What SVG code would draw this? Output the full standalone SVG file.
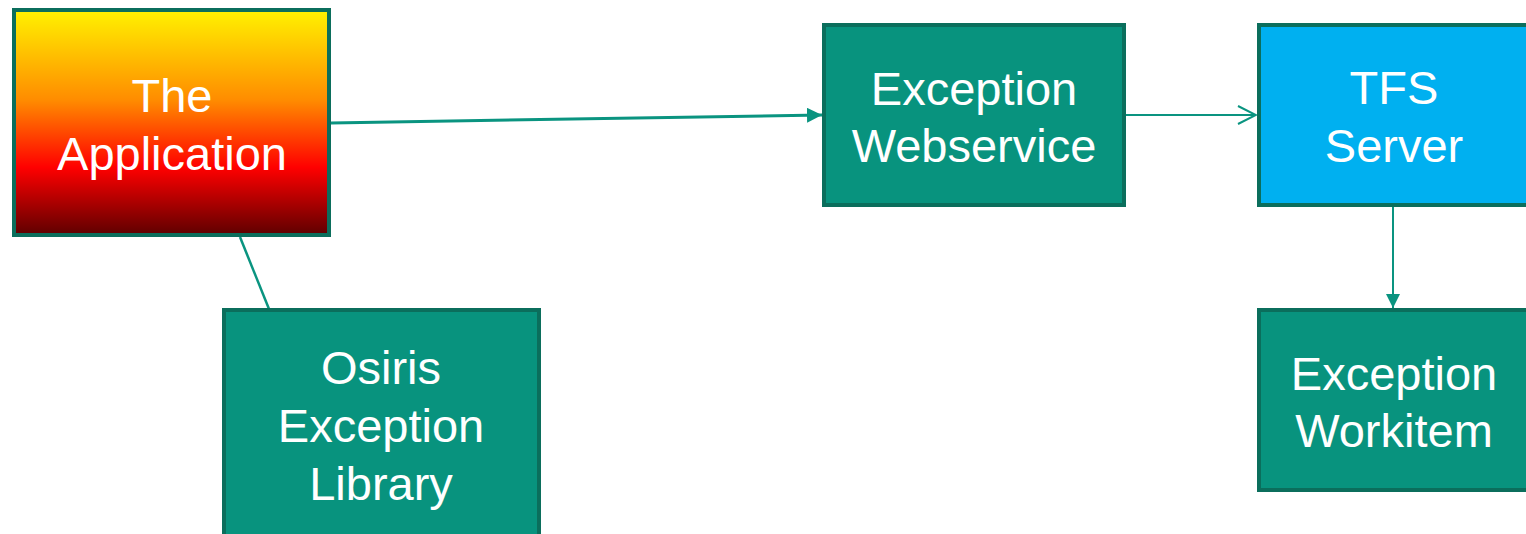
<svg xmlns="http://www.w3.org/2000/svg" width="1526" height="534" viewBox="0 0 1526 534">
<defs>
<linearGradient id="appGrad" x1="0" y1="0" x2="0" y2="1">
<stop offset="0" stop-color="#FFF200"/>
<stop offset="0.4" stop-color="#FF8C00"/>
<stop offset="0.7" stop-color="#FF0000"/>
<stop offset="1" stop-color="#5E0000"/>
</linearGradient>
<marker id="filled" viewBox="0 0 10 10" refX="10" refY="5" markerWidth="5" markerHeight="5" orient="auto" markerUnits="strokeWidth">
<path d="M0,0 L10,5 L0,10 Z" fill="#0A9480"/>
</marker>
<marker id="filledThin" viewBox="0 0 10 10" refX="10" refY="5" markerWidth="7" markerHeight="7" orient="auto" markerUnits="strokeWidth">
<path d="M0,0 L10,5 L0,10 Z" fill="#0A9480"/>
</marker>
<marker id="open" viewBox="0 0 20 20" refX="19" refY="10" markerWidth="10" markerHeight="10" orient="auto" markerUnits="strokeWidth">
<path d="M1,1 L19,10 L1,19" fill="none" stroke="#0A9480" stroke-width="2"/>
</marker>
</defs>
<style>
.box{stroke:#0B6E5C;stroke-width:4}
.teal{fill:#08937E}
.lbl{font-family:"Liberation Sans",Arial,sans-serif;font-size:47px;fill:#FFFFFF;text-anchor:middle}
.conn{stroke:#0A9480;fill:none}
</style>
<rect width="1526" height="534" fill="#FFFFFF"/>
<g id="connectors">
<line class="conn" x1="331" y1="123" x2="822" y2="115" stroke-width="3" marker-end="url(#filled)"/>
<line class="conn" x1="1125" y1="115" x2="1256" y2="115" stroke-width="2" marker-end="url(#open)"/>
<line class="conn" x1="1393" y1="206" x2="1393" y2="308" stroke-width="2" marker-end="url(#filledThin)"/>
<line class="conn" x1="240" y1="237" x2="269" y2="309" stroke-width="2.5"/>
</g>
<g id="app">
<rect class="box" x="14" y="10" width="315" height="225" fill="url(#appGrad)"/>
<text class="lbl" x="172" y="112">The</text>
<text class="lbl" x="172" y="170">Application</text>
</g>
<g id="osiris">
<rect class="box teal" x="224" y="310" width="315" height="230"/>
<text class="lbl" x="381" y="384">Osiris</text>
<text class="lbl" x="381" y="442">Exception</text>
<text class="lbl" x="381" y="500">Library</text>
</g>
<g id="webservice">
<rect class="box teal" x="824" y="25" width="300" height="180"/>
<text class="lbl" x="974" y="105">Exception</text>
<text class="lbl" x="974" y="162">Webservice</text>
</g>
<g id="tfs">
<rect class="box" x="1259" y="25" width="280" height="180" fill="#00B0F0"/>
<text class="lbl" x="1394" y="104">TFS</text>
<text class="lbl" x="1394" y="162">Server</text>
</g>
<g id="workitem">
<rect class="box teal" x="1259" y="310" width="280" height="180"/>
<text class="lbl" x="1394" y="390">Exception</text>
<text class="lbl" x="1394" y="447">Workitem</text>
</g>
</svg>
